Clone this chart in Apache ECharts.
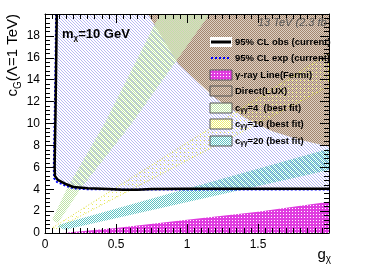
<!DOCTYPE html>
<html><head><meta charset="utf-8">
<script src="https://cdn.jsdelivr.net/npm/echarts@6/dist/echarts.min.js"></script>
<style>html,body{margin:0;padding:0;background:#fff}#c{width:374px;height:270px}</style>
</head><body><div id="c"></div>
<script>
// ---- data ----
const xTickLabels = ['0', '0.5', '1', '1.5', ''];
const yTickLabels = ['0', '2', '4', '6', '8', '10', '12', '14', '16', '18', ''];
const obsCurve = [[0.083,20],[0.08,17],[0.077,14],[0.074,11],[0.07,8],[0.068,6],[0.07,5.2],[0.09,4.85],[0.15,4.45],[0.2,4.2],[0.3,4.08],[0.45,4.02],[0.55,3.95],[0.65,3.95],[0.75,4.02],[1,4.05],[1.5,4.05],[2,4.05]];
const expCurve = [[0.078,20],[0.075,16],[0.07,12],[0.065,8],[0.062,6],[0.064,5],[0.085,4.65],[0.15,4.3],[0.2,4.08],[0.3,4.0],[0.6,3.97],[1,3.97],[1.5,3.97],[2,3.97]];
const luxBoundary = [[0.725,20],[0.94,15.4],[1.2,12.3],[1.41,10.5],[1.6,9.3],[1.8,8.5],[2,7.9]];
const green4Band = [[0.05,1.2],[0.16,4.2],[0.42,10],[0.81,20],[1.16,20],[0.61,10],[0.26,4.2],[0.09,0.9]];
const yellow10Band = [[0.055,0.5],[2,16.4],[2,13.4],[0.08,0.4]];
const teal20Band = [[0.09,0.55],[0.11,0.8],[2,7.7],[2,5.75],[0.14,0.3]];
const fermiBand = [[0.12,0],[0.5,0.45],[1,1.2],[1.5,1.95],[2,2.85],[2,0]];
const legendLabels = ['95% CL obs (current)', '95% CL exp (current)', 'γ-ray Line(Fermi)', 'Direct(LUX)', '=4  (best fit)', '=10 (best fit)', '=20 (best fit)'];

// ---- patterns ----
function makePattern(size, bg, fg, pixels) {
  const c = document.createElement('canvas');
  c.width = size; c.height = size;
  const ctx = c.getContext('2d');
  if (bg) { ctx.fillStyle = bg; ctx.fillRect(0, 0, size, size); }
  ctx.fillStyle = fg;
  pixels.forEach(p => ctx.fillRect(p[0], p[1], 1, 1));
  return { image: c, repeat: 'repeat' };
}
const patBlue = makePattern(3, '#ffffff', '#b8b8f4', [[0,0],[1,1],[2,2]]);
const patBrown = makePattern(2, '#ddd0c4', '#a4866e', [[0,0],[1,1]]);
const patGreen = makePattern(2, null, '#bfe4a6', [[0,0],[1,1]]);
const patTeal = makePattern(2, null, '#5cc2c2', [[0,0],[1,1]]);
const patMag = makePattern(3, '#ffffff', '#e03ce0', [[0,0],[1,0],[2,0],[0,1],[2,1],[0,2],[1,2],[2,2]]);
const patYellow = makePattern(4, null, '#e8e860', [[0,0]]);
const patYellowBox = makePattern(2, null, '#eeee70', [[0,0],[1,1]]);

function regionSeries(name, pts, fill, z, extraStyle) {
  return {
    type: 'custom', name: name, z: z, silent: true, animation: false,
    coordinateSystem: 'cartesian2d', data: pts, encode: { x: 0, y: 1 },
    renderItem: function (params, api) {
      if (params.dataIndex !== 0) return null;
      const points = pts.map(p => api.coord(p));
      return { type: 'polygon', shape: { points: points },
        style: Object.assign({ fill: fill, stroke: null }, extraStyle || {}) };
    }
  };
}

const font = '"Liberation Sans", Arial, Helvetica, sans-serif';
const axisCommon = {
  type: 'value', z: 10,
  axisLine: { show: true, onZero: false, lineStyle: { color: '#000', width: 1 } },
  axisTick: { show: true, inside: true, length: 9, lineStyle: { color: '#000' } },
  minorTick: { show: true, length: 5, lineStyle: { color: '#000' } },
  splitLine: { show: false }, minorSplitLine: { show: false }
};

const chart = echarts.init(document.getElementById('c'), null, { renderer: 'canvas' });
const G = 100;
const legendRows = [42, 58, 75, 91, 108, 124, 141];
const graphics = [];
graphics.push({ type: 'rect', z: G, shape: { x: 210, y: legendRows[0]-5, width: 22, height: 10 }, style: { fill: '#fff' } });
graphics.push({ type: 'line', z: G, shape: { x1: 211, y1: legendRows[0], x2: 231, y2: legendRows[0] }, style: { stroke: '#000', lineWidth: 3 } });
graphics.push({ type: 'line', z: G, shape: { x1: 211, y1: legendRows[1], x2: 231, y2: legendRows[1] }, style: { stroke: '#0000ff', lineWidth: 2, lineDash: [2, 2] } });
const boxFills = [patMag, patBrown, patGreen, patYellowBox, patTeal];
boxFills.forEach((f, i) => {
  const y = legendRows[i + 2] - 5;
  graphics.push({ type: 'rect', z: G, shape: { x: 210, y: y, width: 22, height: 10 }, style: { fill: '#fff' } });
  graphics.push({ type: 'rect', z: G, shape: { x: 210, y: y, width: 22, height: 10 }, style: { fill: f, stroke: '#555', lineWidth: 1 } });
});
const richLeg = {
  t: { font: 'bold 9.5px ' + font, fill: '#000', lineHeight: 12 },
  s: { font: 'bold 6.5px ' + font, fill: '#000', lineHeight: 7, verticalAlign: 'bottom' }
};
legendLabels.forEach((lab, i) => {
  const txt = i >= 4 ? '{t|c}{s|γγ}{t|' + lab + '}' : '{t|' + lab + '}';
  graphics.push({ type: 'text', z: G, x: 235, y: legendRows[i], style: { text: txt, rich: richLeg, align: 'left', verticalAlign: 'middle' } });
});
graphics.push({ type: 'text', z: G, x: 258, y: 23, style: {
  text: '{t|13 TeV (2.3 fb}{p|-1}{t|)}',
  rich: { t: { font: 'italic 11px ' + font, fill: '#555', lineHeight: 14 },
          p: { font: 'italic 7px ' + font, fill: '#555', lineHeight: 8, verticalAlign: 'top' } },
  align: 'left', verticalAlign: 'middle' } });
graphics.push({ type: 'rect', z: G + 1, shape: { x: 330, y: 8, width: 44, height: 30 }, style: { fill: '#fff' } });
graphics.push({ type: 'text', z: G, x: 62, y: 34, style: {
  text: '{t|m}{s|χ}{t|=10 GeV}',
  rich: { t: { font: 'bold 13px ' + font, fill: '#000', lineHeight: 16 },
          s: { font: 'bold 8px ' + font, fill: '#000', lineHeight: 9, verticalAlign: 'bottom' } },
  align: 'left', verticalAlign: 'middle' } });
graphics.push({ type: 'text', z: G, x: 13, y: 14, rotation: Math.PI / 2, style: {
  text: '{t|c}{s|G}{t|(Λ=1 TeV)}',
  rich: { t: { font: '15px ' + font, fill: '#000', lineHeight: 20 },
          s: { font: '10px ' + font, fill: '#000', lineHeight: 11, verticalAlign: 'bottom' } },
  align: 'right', verticalAlign: 'middle' } });
graphics.push({ type: 'text', z: G, x: 331, y: 255, style: {
  text: '{t|g}{s|χ}',
  rich: { t: { font: '15px ' + font, fill: '#000', lineHeight: 18 },
          s: { font: '10px ' + font, fill: '#000', lineHeight: 10, verticalAlign: 'bottom' } },
  align: 'right', verticalAlign: 'middle' } });

chart.setOption({
  animation: false,
  backgroundColor: '#fff',
  grid: { left: 45, right: 45, top: 14, bottom: 37 },
  xAxis: [
    Object.assign({}, axisCommon, { min: 0, max: 2, interval: 0.5, position: 'bottom',
      minorTick: Object.assign({}, axisCommon.minorTick, { splitNumber: 10 }),
      axisLabel: { fontSize: 12, fontFamily: font, color: '#000', margin: 6,
        formatter: v => xTickLabels[Math.round(v / 0.5)] } }),
    Object.assign({}, axisCommon, { min: 0, max: 2, interval: 0.5, position: 'top',
      minorTick: Object.assign({}, axisCommon.minorTick, { splitNumber: 10 }),
      axisLabel: { show: false } })
  ],
  yAxis: [
    Object.assign({}, axisCommon, { min: 0, max: 20, interval: 2, position: 'left',
      minorTick: Object.assign({}, axisCommon.minorTick, { splitNumber: 5 }),
      axisLabel: { fontSize: 12, fontFamily: font, color: '#000', margin: 5,
        formatter: v => yTickLabels[Math.round(v / 2)] } }),
    Object.assign({}, axisCommon, { min: 0, max: 20, interval: 2, position: 'right',
      minorTick: Object.assign({}, axisCommon.minorTick, { splitNumber: 5 }),
      axisLabel: { show: false } })
  ],
  series: [
    regionSeries('excluded', obsCurve.concat([[2, 20]]), patBlue, 1),
    regionSeries('Direct(LUX)', luxBoundary.concat([[2, 20]]), patBrown, 2),
    regionSeries('c4', green4Band, patGreen, 3),
    regionSeries('c10', yellow10Band, patYellow, 3, { stroke: '#dede30', lineWidth: 1, lineDash: [1, 2] }),
    regionSeries('c20', teal20Band, patTeal, 3),
    regionSeries('Fermi', fermiBand, patMag, 3),
    { type: 'line', name: 'exp', data: expCurve, showSymbol: false, symbol: 'none', z: 5,
      lineStyle: { color: '#0000ff', width: 2, type: [2, 2] }, animation: false },
    { type: 'line', name: 'obs', data: obsCurve, showSymbol: false, symbol: 'none', z: 6,
      lineStyle: { color: '#000', width: 2.5 }, animation: false }
  ],
  graphic: graphics
});
</script></body></html>
